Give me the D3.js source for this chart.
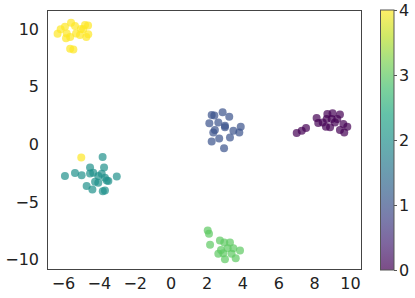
<!DOCTYPE html>
<html>
<head>
<meta charset="utf-8">
<script src="https://cdn.jsdelivr.net/npm/d3@7"></script>
<style>
  body { margin: 0; background: #fff; }
  text { font-family: "DejaVu Sans", sans-serif; }
</style>
</head>
<body>
<div id="chart"></div>
<script>
// cluster 0 (purple)
const xs0 = [7.03, 7.31, 7.55, 8.14, 8.23, 8.74, 9.03, 9.44, 8.70, 8.98, 9.29, 8.66, 8.89, 9.63, 9.85, 9.44, 9.68, 9.16, 8.48];
const ys0 = [0.98, 1.18, 1.41, 2.29, 1.85, 2.64, 2.69, 2.58, 2.20, 2.20, 2.20, 1.53, 1.47, 1.76, 1.53, 1.24, 1.03, 1.90, 1.90];
// cluster 1 (blue)
const xs1 = [2.29, 2.90, 3.27, 2.16, 2.66, 3.03, 2.47, 3.03, 3.50, 3.91, 3.83, 3.31, 2.71, 2.29, 2.98, 2.38, 2.44];
const ys1 = [2.55, 2.78, 2.40, 1.82, 1.90, 1.62, 1.24, 1.47, 1.18, 1.53, 1.03, 0.60, 0.51, 0.25, -0.33, 1.03, 2.49];
// cluster 2 (teal)
const xs2 = [-3.79, -5.89, -5.33, -4.96, -4.49, -4.31, -3.71, -4.03, -3.66, -3.00, -4.21, -4.03, -3.56, -4.68, -4.36, -3.78, -3.66, -4.49, -3.84, -3.47];
const ys2 = [-1.09, -2.75, -2.49, -2.69, -2.02, -2.46, -2.02, -2.75, -2.90, -2.78, -3.25, -3.34, -3.13, -3.62, -3.92, -4.06, -4.00, -2.52, -2.55, -3.19];
// cluster 3 (green)
const xs3 = [2.07, 2.14, 2.20, 2.75, 2.99, 3.31, 3.50, 3.87, 2.81, 3.18, 2.66, 3.03, 3.63, 3.40, 2.94];
const ys3 = [-7.47, -7.76, -8.72, -8.34, -8.52, -8.52, -9.01, -9.21, -9.16, -9.01, -9.50, -9.97, -9.88, -9.50, -9.45];
// cluster 4 (yellow), last point sits inside the teal cluster
const xs4 = [-6.13, -5.89, -5.55, -5.33, -4.77, -4.87, -4.59, -5.05, -5.27, -5.79, -5.83, -5.42, -5.60, -6.30, -5.00, -4.60, -5.60, -4.70, -4.98];
const ys4 = [9.97, 10.20, 10.55, 10.26, 10.35, 9.97, 9.54, 9.48, 9.62, 9.62, 9.19, 8.23, 8.30, 9.60, 10.00, 10.30, 9.30, 9.30, -1.15];

const xTicks = [-6, -4, -2, 0, 2, 4, 6, 8, 10];
const yTicks = [-10, -5, 0, 5, 10];
const cbarTicks = [0, 1, 2, 3, 4];

const W = 415, H = 298;
const margin = { left: 47, right: 362, top: 10, bottom: 270 };
const cbLeft = 380.5, cbRight = 394;

const svg = d3.select('#chart').append('svg')
    .attr('width', W)
    .attr('height', H);

const x = d3.scaleLinear().domain([-6.89, 10.67]).range([margin.left, margin.right]);
const y = d3.scaleLinear().domain([-10.9, 11.65]).range([margin.bottom, margin.top]);
const color = d3.scaleSequential(d3.interpolateViridis).domain([0, 4]);

const points = [];
[[xs0, ys0], [xs1, ys1], [xs2, ys2], [xs3, ys3], [xs4, ys4]].forEach(function (pair, label) {
    pair[0].forEach(function (v, i) {
        points.push({ x: v, y: pair[1][i], label: label });
    });
});

svg.append('g')
    .selectAll('circle')
    .data(points)
    .enter().append('circle')
    .attr('cx', d => x(d.x))
    .attr('cy', d => y(d.y))
    .attr('r', 4)
    .style('fill', d => color(d.label))
    .style('fill-opacity', 0.7);

// frame
svg.append('rect')
    .attr('x', margin.left + 0.5)
    .attr('y', margin.top + 0.5)
    .attr('width', margin.right - margin.left - 1)
    .attr('height', margin.bottom - margin.top - 1)
    .style('fill', 'none')
    .style('stroke', '#444')
    .style('stroke-width', 1);

const fmt = d => d < 0 ? '\u2212' + Math.abs(d) : String(d);

const gx = svg.append('g')
    .attr('transform', `translate(0,${margin.bottom})`)
    .call(d3.axisBottom(x).tickValues(xTicks).tickSize(0).tickPadding(8).tickFormat(fmt));
gx.select('.domain').remove();
gx.selectAll('text').style('font-size', '16px').style('fill', '#222');

const gy = svg.append('g')
    .attr('transform', `translate(${margin.left},0)`)
    .call(d3.axisLeft(y).tickValues(yTicks).tickSize(0).tickPadding(8).tickFormat(fmt));
gy.select('.domain').remove();
gy.selectAll('text').style('font-size', '16px').style('fill', '#222');

// colorbar
const grad = svg.append('defs').append('linearGradient')
    .attr('id', 'cbar')
    .attr('x1', 0).attr('y1', 1).attr('x2', 0).attr('y2', 0);
d3.range(0, 1.0001, 0.1).forEach(function (t) {
    grad.append('stop')
        .attr('offset', t)
        .attr('stop-color', d3.interpolateViridis(t))
        .attr('stop-opacity', 0.7);
});

const cb = d3.scaleLinear().domain([0, 4]).range([margin.bottom, margin.top]);
svg.append('rect')
    .attr('x', cbLeft)
    .attr('y', margin.top)
    .attr('width', cbRight - cbLeft)
    .attr('height', margin.bottom - margin.top)
    .style('fill', 'url(#cbar)')
    .style('stroke', '#555')
    .style('stroke-width', 1);

const gc = svg.append('g')
    .attr('transform', `translate(${cbRight},0)`)
    .call(d3.axisRight(cb).tickValues(cbarTicks).tickSize(3).tickPadding(2).tickFormat(d3.format('d')));
gc.select('.domain').remove();
gc.selectAll('line').style('stroke', '#555');
gc.selectAll('text').style('font-size', '16px').style('fill', '#222');
</script>
</body>
</html>
